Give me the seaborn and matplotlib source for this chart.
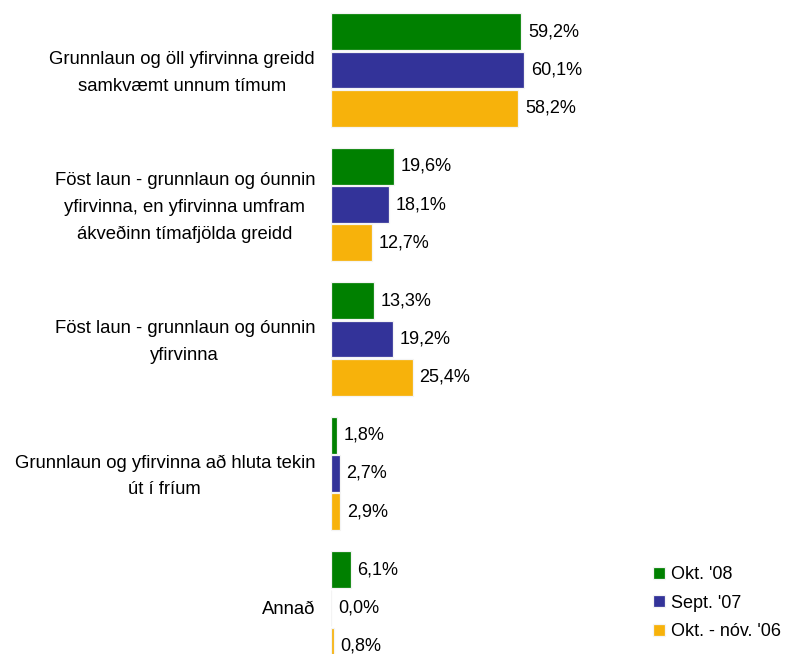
import pandas as pd
import matplotlib
matplotlib.use("Agg")
import matplotlib.pyplot as plt
import matplotlib.transforms as mtransforms
import seaborn as sns

# gögn lesin af myndinni
categories = [
    "Grunnlaun og öll yfirvinna greidd\nsamkvæmt unnum tímum",
    "Föst laun - grunnlaun og óunnin\nyfirvinna, en yfirvinna umfram\nákveðinn tímafjölda greidd",
    "Föst laun - grunnlaun og óunnin\nyfirvinna",
    "Grunnlaun og yfirvinna að hluta tekin\nút í fríum",
    "Annað",
]
series = ["Okt. '08", "Sept. '07", "Okt. - nóv. '06"]
okt08 = [59.2, 19.6, 13.3, 1.8, 6.1]
sept07 = [60.1, 18.1, 19.2, 2.7, 0.0]
okt06 = [58.2, 12.7, 25.4, 2.9, 0.8]
colors = ["#008000", "#333399", "#F7B20B"]

rows = []
for s, vals in zip(series, [okt08, sept07, okt06]):
    for c, v in zip(categories, vals):
        rows.append({"flokkur": c, "hópur": s, "hlutfall": v})
df = pd.DataFrame(rows)

sns.set_style("white")
plt.rcParams["font.family"] = ["Liberation Sans", "DejaVu Sans"]
plt.rcParams["text.color"] = "black"
plt.rcParams["ytick.color"] = "black"

fig = plt.figure(figsize=(7.94, 6.54), dpi=100)
ax = fig.add_axes([331 / 794, 0, 320 / 794, 1])

sns.barplot(data=df, y="flokkur", x="hlutfall", hue="hópur", orient="h",
            palette=colors, saturation=1, width=0.855, gap=0.04,
            edgecolor="#f4f4f4", linewidth=0.9, ax=ax, errorbar=None)

pxpct = 193 / 60.1
ax.set_xlim(0, 320 / pxpct)
ax.set_ylim(4 + 46 / 134.5, -70 / 134.5)

for cont, vals in zip(ax.containers, [okt08, sept07, okt06]):
    ax.bar_label(cont, labels=[f"{v:.1f}%".replace(".", ",") for v in vals],
                 padding=5, fontsize=13)

ax.set_xticks([])
ax.set_xlabel("")
ax.set_ylabel("")
ax.tick_params(axis="y", length=0, pad=11.5, labelsize=13.3)
shift = mtransforms.ScaledTranslation(0, 0.04, fig.dpi_scale_trans)
for lab in ax.get_yticklabels():
    lab.set_multialignment("center")
    lab.set_linespacing(1.75)
    if "\n" in lab.get_text():
        lab.set_transform(lab.get_transform() + shift)
sns.despine(ax=ax, left=True, bottom=True)

ax.legend(loc="upper left", bbox_to_anchor=(644 / 794, 1 - 557 / 654),
          bbox_transform=fig.transFigure, frameon=False, fontsize=13,
          handlelength=0.65, handleheight=0.65, handletextpad=0.35,
          labelspacing=0.65, borderpad=0)

fig.savefig("out.png", dpi=100)
